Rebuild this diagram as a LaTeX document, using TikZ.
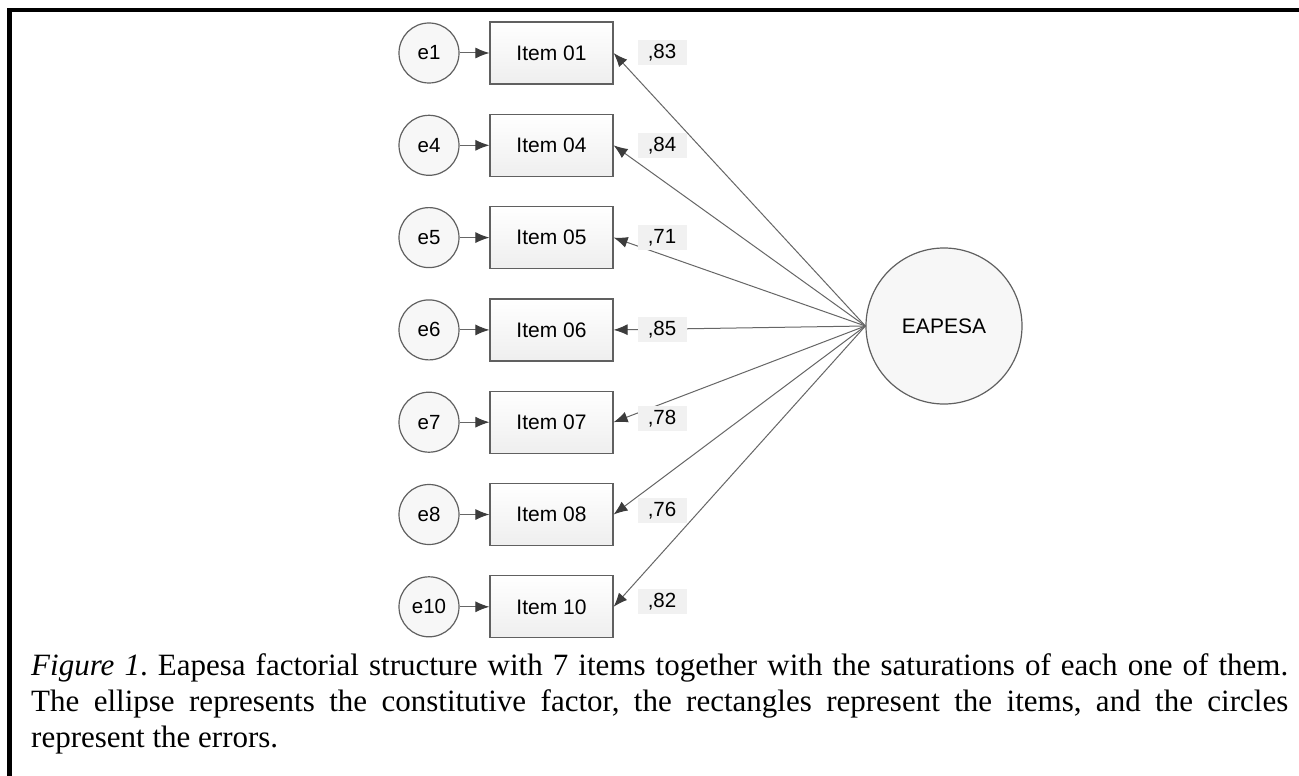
\documentclass[tikz,border=0pt]{standalone}
\usepackage{fontspec}
\setmainfont{Liberation Serif}
\newfontfamily\arialf{Liberation Sans}
\usetikzlibrary{arrows.meta}
\definecolor{edgegray}{HTML}{606060}
\definecolor{linegray}{HTML}{666666}
\definecolor{headgray}{HTML}{3C3C3C}
\definecolor{lblgray}{HTML}{F1F1F1}
\frenchspacing
\begin{document}
\begin{tikzpicture}[x=1pt,y=-1pt,
  errnode/.style={circle,draw=edgegray,line width=1.2pt,fill=gray!6,minimum size=60pt,inner sep=0pt,font=\arialf\fontsize{20.5}{24}\selectfont},
  itemnode/.style={rectangle,draw=edgegray,line width=1.2pt,top color=white,bottom color=gray!13,minimum width=123pt,minimum height=62pt,inner sep=0pt,font=\arialf\fontsize{21}{25}\selectfont},
  factnode/.style={circle,draw=edgegray,line width=1.2pt,fill=gray!6,minimum size=156pt,inner sep=0pt,font=\arialf\fontsize{21}{25}\selectfont},
  lblnode/.style={fill=lblgray,inner xsep=5pt,inner ysep=0pt,text height=15pt,text depth=3pt,minimum width=49pt,minimum height=25pt,font=\arialf\fontsize{20.5}{24}\selectfont},
  arr/.style={draw=linegray,line width=1pt,-{Latex[length=14pt,width=11pt,color=headgray]}},
  capnode/.style={anchor=north west,inner sep=0pt,text width=1257pt,align=justify,font=\fontsize{31}{36}\selectfont}
]
\useasboundingbox (0,0) rectangle (1299,776);
\fill[white] (0,0) rectangle (1299,776);
\draw[line width=4.5pt,line join=miter] (9.5,776) -- (9.5,10) -- (1299,10);

\node[factnode] (F) at (944,326) {EAPESA};

\foreach \e/\num [count=\i from 0] in {1/01,4/04,5/05,6/06,7/07,8/08,10/10}{
  \pgfmathsetmacro\yy{53+92.3*\i}
  \node[errnode] (e\i) at (429,\yy) {e\e};
  \node[itemnode] (it\i) at (551.5,\yy) {Item \num};
  \draw[arr] (e\i) -- (it\i);
  \draw[arr] (F.west) -- (it\i.east);
}
\foreach \l/\yy [count=\i from 0] in {83/53,84/145,71/237,85/329,78/418,76/510,82/601}{
  \node[lblnode] (l\i) at (662,\yy) {,\l};
}

\node[capnode] (cap) at (31,650) {\strut\textit{Figure 1}. Eapesa factorial structure with 7 items together with the saturations of each one of them.\linebreak The ellipse represents the constitutive factor, the rectangles represent the items, and the circles\linebreak represent the errors.};
\end{tikzpicture}
\end{document}
